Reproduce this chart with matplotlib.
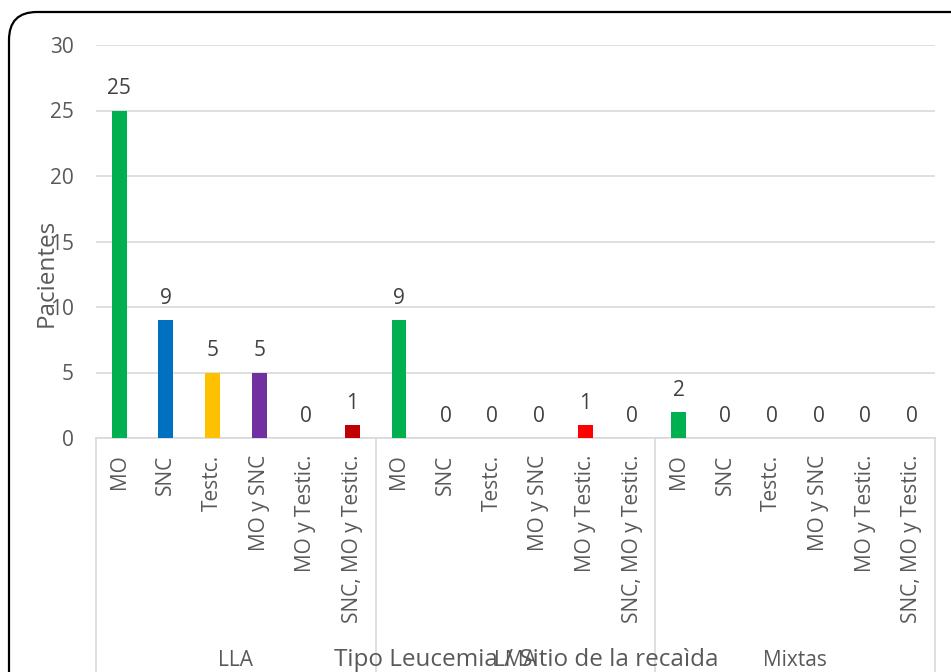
import matplotlib.pyplot as plt
from matplotlib.patches import FancyBboxPatch
from matplotlib.transforms import IdentityTransform
import numpy as np

plt.rcParams['font.family'] = ['Open Sans', 'DejaVu Sans']

# Datos
grupos = ['LLA', 'LMA', 'Mixtas']
sitios = ['MO', 'SNC', 'Testc.', 'MO y SNC', 'MO y Testic.', 'SNC, MO y Testic.']
valores_lla = [25, 9, 5, 5, 0, 1]
valores_lma = [9, 0, 0, 0, 1, 0]
valores_mixtas = [2, 0, 0, 0, 0, 0]
colores_lla = ['#00B050', '#0070C0', '#FFC000', '#7030A0', '#7030A0', '#C00000']
colores_lma = ['#00B050', '#00B050', '#00B050', '#00B050', '#FF0000', '#FF0000']
colores_mixtas = ['#00B050'] * 6

valores = valores_lla + valores_lma + valores_mixtas
colores = colores_lla + colores_lma + colores_mixtas
etiquetas = sitios * 3
x = np.arange(len(valores))

W, H = 951, 672
fig = plt.figure(figsize=(W / 100, H / 100), dpi=100)

# Marco redondeado (se sale por la derecha y abajo)
marco = FancyBboxPatch((9, -40), 1000, H - 12 + 40,
                       boxstyle='round,pad=0,rounding_size=28',
                       transform=IdentityTransform(), fill=False,
                       edgecolor='black', linewidth=1.6)
fig.patches.append(marco)

x0, x1, ytop, ybot = 96, 935, 45, 438
ax = fig.add_axes([x0 / W, (H - ybot) / H, (x1 - x0) / W, (ybot - ytop) / H])

ax.bar(x, valores, width=0.32, color=colores, zorder=3)
for xi, v in zip(x, valores):
    ax.annotate(str(v), (xi, v), xytext=(0, 8), textcoords='offset points',
                ha='center', va='bottom', fontsize=15, color='#404040')

ax.set_xlim(-0.5, len(valores) - 0.5)
ax.set_ylim(0, 30)
ax.set_yticks(range(0, 31, 5))
ax.tick_params(axis='y', length=0, labelsize=15, labelcolor='#595959', pad=16)
ax.grid(axis='y', color='#D9D9D9', linewidth=1.2, zorder=0)
for s in ['top', 'right', 'left']:
    ax.spines[s].set_visible(False)
ax.spines['bottom'].set_color('#D9D9D9')
ax.spines['bottom'].set_linewidth(1.2)

ax.set_xticks(x)
ax.set_xticklabels(etiquetas, rotation=90, va='top', fontsize=15, color='#595959')
ax.tick_params(axis='x', length=0, pad=12)

# Separadores de grupo y etiquetas
tr = ax.get_xaxis_transform()
for b in [-0.5, 5.5, 11.5, 17.5]:
    ax.plot([b, b], [0, -1.0], transform=tr, color='#D9D9D9', linewidth=1.2,
            clip_on=False)
for i, g in enumerate(grupos):
    fig.text((x0 + (x1 - x0) * (i * 6 + 3) / 18) / W, (H - 660) / H, g,
             ha='center', va='center', fontsize=15, color='#595959')

fig.text(526 / W, (H - 660) / H, 'Tipo Leucemia / Sitio de la recaìda',
         ha='center', va='center', fontsize=17.5, color='#595959')
fig.text(47 / W, (H - 273) / H, 'Pacientes', rotation=90,
         ha='center', va='center', fontsize=17.5, color='#595959')

fig.savefig('out.png', dpi=100)
